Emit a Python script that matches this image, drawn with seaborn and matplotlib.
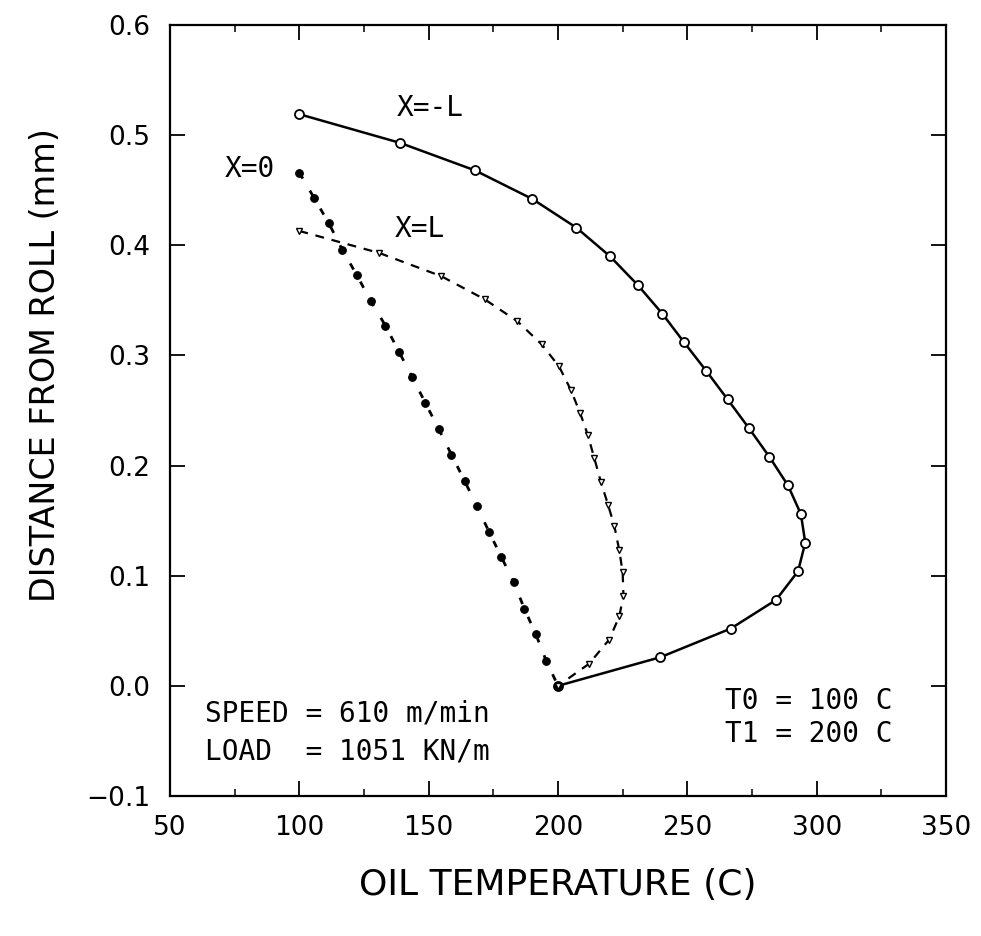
"""Perfil de temperatura del aceite en la zona de contacto con el rodillo."""

import matplotlib

matplotlib.use("Agg")

import matplotlib.pyplot as plt
import pandas as pd
import seaborn as sns
from matplotlib.ticker import FuncFormatter, MultipleLocator

sns.set_theme(style="ticks")
plt.rcParams["font.family"] = ["DejaVu Sans"]

# valores: temperatura (C) y distancia al rodillo (mm)
TEMP_X_NEG_L = [100.0, 138.9, 167.9, 190.1, 207.1, 220.1, 230.8, 240.3, 248.7, 257.3, 265.6,
                273.8, 281.7, 288.9, 293.9, 295.6, 292.8, 284.3, 266.8, 239.6, 200.0]
DIST_X_NEG_L = [0.519, 0.493, 0.468, 0.442, 0.416, 0.390, 0.364, 0.338, 0.312, 0.286, 0.260,
                0.234, 0.208, 0.182, 0.156, 0.130, 0.104, 0.078, 0.052, 0.026, 0.0]

TEMP_X_0 = [100.0, 105.7, 111.4, 116.6, 122.2, 127.7, 133.3, 138.6, 143.7, 148.7, 153.9,
            158.8, 163.9, 168.7, 173.3, 178.1, 182.9, 187.0, 191.4, 195.4, 200.0]
DIST_X_0 = [0.466, 0.443, 0.420, 0.396, 0.373, 0.349, 0.327, 0.303, 0.280, 0.257, 0.233,
            0.210, 0.186, 0.163, 0.140, 0.117, 0.094, 0.070, 0.047, 0.023, 0.0]

TEMP_X_L = [100.0, 130.9, 154.8, 171.6, 184.3, 193.7, 200.4, 204.9, 208.5, 211.5, 214.0,
            216.6, 219.4, 221.8, 223.7, 225.0, 225.3, 223.7, 219.8, 212.0, 200.0]
DIST_X_L = [0.413, 0.393, 0.372, 0.351, 0.331, 0.310, 0.290, 0.269, 0.248, 0.228, 0.207,
            0.185, 0.164, 0.145, 0.123, 0.103, 0.082, 0.063, 0.042, 0.020, 0.0]

SERIES = ["X=-L", "X=0", "X=L"]
ESTILOS = {
    "X=-L": dict(linestyle="-", linewidth=1.8, marker="o", markersize=6.5,
                 markerfacecolor="white", markeredgewidth=1.3),
    "X=0": dict(linestyle=(0, (2.5, 5)), linewidth=2.0, marker="o", markersize=5.5,
                markerfacecolor="black", markeredgewidth=0.8),
    "X=L": dict(linestyle=(0, (4, 3.5)), linewidth=1.6, marker="v", markersize=5,
                markerfacecolor="white", markeredgewidth=1.0),
}

perfiles = pd.concat([
    pd.DataFrame({"serie": "X=-L", "temp": TEMP_X_NEG_L, "dist": DIST_X_NEG_L}),
    pd.DataFrame({"serie": "X=0", "temp": TEMP_X_0, "dist": DIST_X_0}),
    pd.DataFrame({"serie": "X=L", "temp": TEMP_X_L, "dist": DIST_X_L}),
], ignore_index=True)

fig = plt.figure(figsize=(9.81, 9.36), dpi=100)
ax = fig.add_axes([0.1733, 0.1496, 0.791, 0.8237])

for serie in SERIES:
    sns.lineplot(data=perfiles[perfiles["serie"] == serie], x="temp", y="dist",
                 sort=False, estimator=None, color="black", markeredgecolor="black",
                 ax=ax, **ESTILOS[serie])

ax.set_xlim(50, 350)
ax.set_ylim(-0.1, 0.6)
ax.xaxis.set_major_locator(MultipleLocator(50))
ax.xaxis.set_minor_locator(MultipleLocator(25))
ax.yaxis.set_major_locator(MultipleLocator(0.1))
ax.yaxis.set_major_formatter(FuncFormatter(lambda v, _: f"{v:.1f}".replace("-", "\u2212")))
ax.tick_params(which="both", direction="in", top=True, right=True, colors="black",
               labelsize=19)
ax.tick_params(which="major", length=11, width=1.3, pad=14)
ax.tick_params(which="minor", length=5, width=1.1)
for lado in ax.spines.values():
    lado.set_linewidth(1.6)
    lado.set_color("black")

ax.set_xlabel("OIL TEMPERATURE (C)", fontsize=26, color="black")
ax.set_ylabel("DISTANCE FROM ROLL (mm)", fontsize=24, color="black")
ax.xaxis.set_label_coords(0.5, -0.093)
ax.yaxis.set_label_coords(-0.139, 0.559)

mono = dict(family="DejaVu Sans Mono", fontsize=20, color="black")
ax.text(150.5, 0.525, "X=-L", ha="center", va="center", **mono)
ax.text(80.9, 0.469, "X=0", ha="center", va="center", **mono)
ax.text(146.7, 0.415, "X=L", ha="center", va="center", **mono)
ax.text(63.5, -0.025, "SPEED = 610 m/min", ha="left", va="center", **mono)
ax.text(63.5, -0.060, "LOAD  = 1051 KN/m", ha="left", va="center", **mono)
ax.text(329.5, -0.014, "T0 = 100 C", ha="right", va="center", **mono)
ax.text(329.5, -0.044, "T1 = 200 C", ha="right", va="center", **mono)

fig.savefig("out.png", dpi=100)
plt.close(fig)
